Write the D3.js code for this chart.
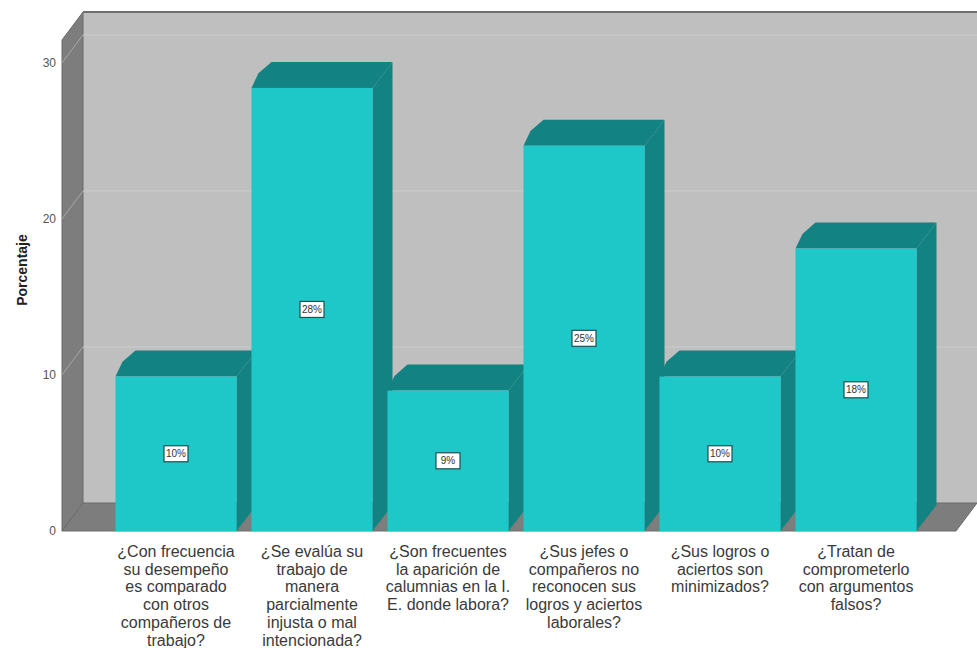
<!DOCTYPE html>
<html>
<head>
<meta charset="utf-8">
<script src="https://cdn.jsdelivr.net/npm/d3@7"></script>
<style>
  body { margin: 0; background: #fff; }
  svg { display: block; font-family: "Liberation Sans", Arial, sans-serif; }
</style>
</head>
<body>
<svg id="chart"></svg>
<script>
// categories, already wrapped the way the chart shows them
var categories = [
  ["¿Con frecuencia", "su desempeño", "es comparado", "con otros", "compañeros de", "trabajo?"],
  ["¿Se evalúa su", "trabajo de", "manera", "parcialmente", "injusta o mal", "intencionada?"],
  ["¿Son frecuentes", "la aparición de", "calumnias en la I.", "E. donde labora?"],
  ["¿Sus jefes o", "compañeros no", "reconocen sus", "logros y aciertos", "laborales?"],
  ["¿Sus logros o", "aciertos son", "minimizados?"],
  ["¿Tratan de", "comprometerlo", "con argumentos", "falsos?"]
];
var values = [9.9, 28.4, 9.0, 24.7, 9.9, 18.1];
var yTicks = [0, 10, 20, 30];

var width = 977;
var height = 648;

// 3d depth offsets
var wallDx = 21, wallDy = 28;
var barDx = 20, barDy = 26;

var svg = d3.select("#chart")
    .attr("width", width)
    .attr("height", height);

var yScale = d3.scaleLinear()
    .domain([0, 31.47])
    .range([531, 40]);

var xScale = d3.scaleBand()
    .domain(d3.range(categories.length))
    .range([108, 924])
    .paddingInner(0.11)
    .paddingOuter(0.055);

var frontLeft = 62, frontRight = 956;
var y0 = yScale(0), yTop = yScale(yScale.domain()[1]);

// back wall
svg.append("rect")
    .attr("x", frontLeft + wallDx)
    .attr("y", yTop - wallDy)
    .attr("width", width - frontLeft - wallDx + 5)
    .attr("height", y0 - yTop)
    .attr("fill", "#bfbfbf");

svg.append("line")
    .attr("x1", frontLeft + wallDx).attr("x2", width)
    .attr("y1", yTop - wallDy).attr("y2", yTop - wallDy)
    .attr("stroke", "#6e6e6e")
    .attr("stroke-width", 2);

// left side wall
svg.append("polygon")
    .attr("points", [
      [frontLeft, yTop], [frontLeft + wallDx, yTop - wallDy],
      [frontLeft + wallDx, y0 - wallDy], [frontLeft, y0]
    ].join(" "))
    .attr("fill", "#7d7d7d")
    .attr("stroke", "#6a6a6a");

// floor
svg.append("polygon")
    .attr("points", [
      [frontLeft, y0], [frontLeft + wallDx, y0 - wallDy],
      [frontRight + wallDx, y0 - wallDy], [frontRight, y0]
    ].join(" "))
    .attr("fill", "#7d7d7d")
    .attr("stroke", "#6a6a6a");

// grid lines on the back wall and side wall
var grid = svg.append("g");
grid.selectAll(".gback")
  .data(yTicks.filter(d => d > 0))
  .enter().append("line")
    .attr("x1", frontLeft + wallDx).attr("x2", width)
    .attr("y1", d => yScale(d) - wallDy).attr("y2", d => yScale(d) - wallDy)
    .attr("stroke", "#cdcdcd");
grid.selectAll(".gside")
  .data(yTicks.filter(d => d > 0))
  .enter().append("line")
    .attr("x1", frontLeft).attr("x2", frontLeft + wallDx)
    .attr("y1", d => yScale(d)).attr("y2", d => yScale(d) - wallDy)
    .attr("stroke", "#a8a8a8");

// y axis labels
var yAxis = d3.axisLeft(yScale)
    .tickValues(yTicks)
    .tickSize(0)
    .tickPadding(4);

svg.append("g")
    .attr("transform", "translate(" + (frontLeft - 2) + ",0)")
    .call(yAxis)
    .call(g => g.select(".domain").remove())
    .selectAll("text")
      .attr("font-size", 12)
      .attr("fill", "#555")
      .attr("font-family", "Liberation Sans, Arial, sans-serif");

svg.append("text")
    .attr("transform", "translate(27,270) rotate(-90)")
    .attr("text-anchor", "middle")
    .attr("font-size", 14)
    .attr("font-weight", "bold")
    .attr("fill", "#222")
    .text("Porcentaje");

// bars
var bars = svg.selectAll(".bar")
  .data(values)
  .enter().append("g")
    .attr("class", "bar");

// side face
bars.append("polygon")
    .attr("points", (d, i) => {
      var x1 = xScale(i) + xScale.bandwidth();
      return [[x1, yScale(d)], [x1 + barDx, yScale(d) - barDy],
              [x1 + barDx, y0 - barDy], [x1, y0]].join(" ");
    })
    .attr("fill", "#138282");

// top face
bars.append("polygon")
    .attr("points", (d, i) => {
      var x0 = xScale(i), x1 = x0 + xScale.bandwidth(), yt = yScale(d);
      return [[x0, yt], [x0 + barDx * 0.35, yt - barDy * 0.45 - 3], [x0 + barDx, yt - barDy],
              [x1 + barDx, yt - barDy], [x1, yt]].join(" ");
    })
    .attr("fill", "#138282");

// front face
bars.append("rect")
    .attr("x", (d, i) => xScale(i))
    .attr("y", d => yScale(d))
    .attr("width", xScale.bandwidth())
    .attr("height", d => y0 - yScale(d))
    .attr("fill", "#1fc8c8");

// value labels
var labels = bars.append("g")
    .attr("transform", (d, i) =>
      "translate(" + (xScale(i) + xScale.bandwidth() / 2) + "," + ((yScale(d) + y0) / 2) + ")");

labels.append("rect")
    .attr("x", -12).attr("y", -8)
    .attr("width", 24).attr("height", 16)
    .attr("fill", "#fff")
    .attr("stroke", "#1d4f4f")
    .attr("stroke-width", 1.2);

labels.append("text")
    .attr("text-anchor", "middle")
    .attr("dy", "0.35em")
    .attr("font-size", 10)
    .attr("fill", "#333")
    .text(d => Math.round(d) + "%");

// category labels
var cats = svg.selectAll(".cat")
  .data(categories)
  .enter().append("text")
    .attr("class", "cat")
    .attr("text-anchor", "middle")
    .attr("font-size", 16)
    .attr("fill", "#3a3a3a")
    .attr("transform", (d, i) => "translate(" + (xScale(i) + xScale.bandwidth() / 2) + ",557)");

cats.selectAll("tspan")
  .data(d => d)
  .enter().append("tspan")
    .attr("x", 0)
    .attr("y", (d, j) => j * 17.7)
    .text(d => d);
</script>
</body>
</html>
